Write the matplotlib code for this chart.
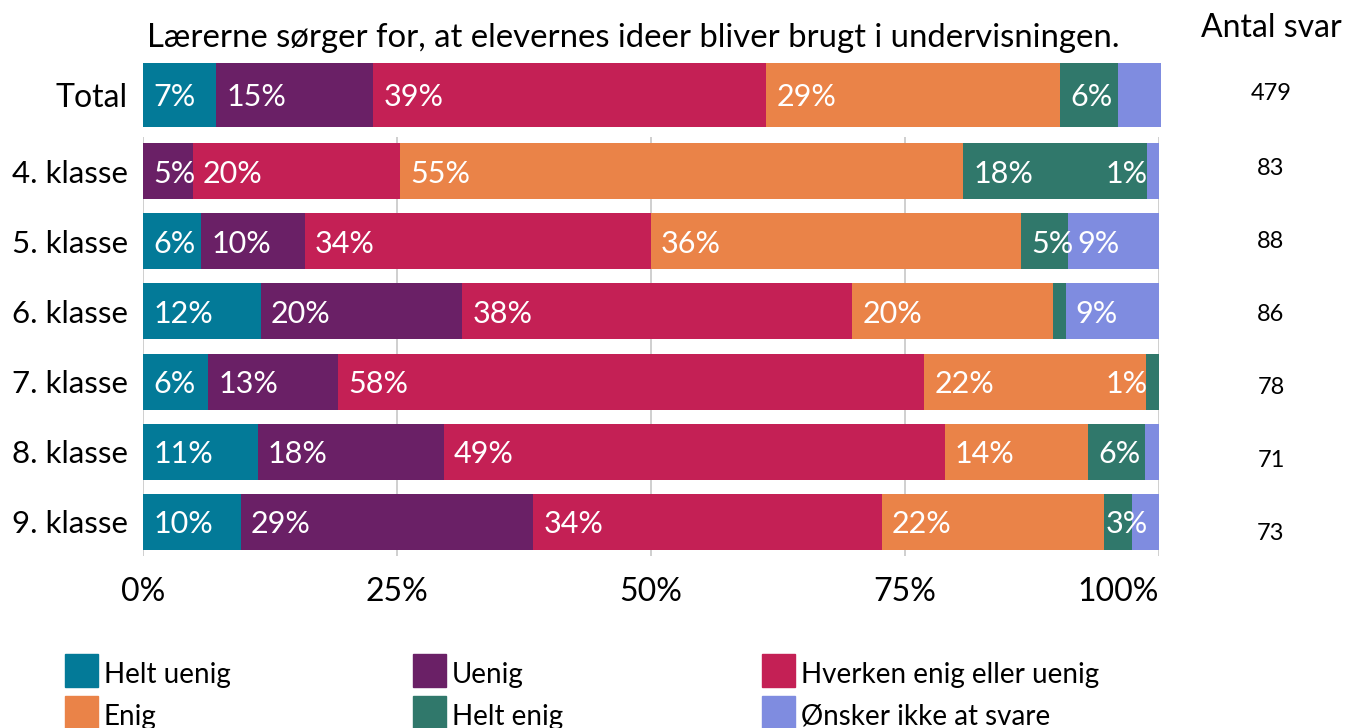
import matplotlib.pyplot as plt
from matplotlib.patches import Rectangle
from matplotlib.transforms import blended_transform_factory

plt.rcParams['font.family'] = ['Lato', 'DejaVu Sans']

title = 'Lærerne sørger for, at elevernes ideer bliver brugt i undervisningen.'
categories = ['Helt uenig', 'Uenig', 'Hverken enig eller uenig',
              'Enig', 'Helt enig', 'Ønsker ikke at svare']
colors = ['#037a98', '#6a2066', '#c42055', '#ea8348', '#30786b', '#7f8ce0']

total_pct = [7.2, 15.4, 38.6, 28.9, 5.7, 4.2]
total_n = 479

grades = ['4. klasse', '5. klasse', '6. klasse', '7. klasse', '8. klasse', '9. klasse']
grade_pct = [
    [0.0, 4.9, 20.4, 55.4, 18.1, 1.2],
    [5.7, 10.2, 34.1, 36.4, 4.6, 9.0],
    [11.6, 19.8, 38.4, 19.8, 1.2, 9.2],
    [6.4, 12.8, 57.7, 21.8, 1.3, 0.0],
    [11.3, 18.3, 49.3, 14.1, 5.6, 1.4],
    [9.6, 28.8, 34.3, 21.9, 2.7, 2.7],
]
grade_n = [83, 88, 86, 78, 71, 73]

W, H = 1354, 728
fig = plt.figure(figsize=(W / 100, H / 100), dpi=100)


def px_box(x0, y0, x1, y1):
    return [x0 / W, 1 - y1 / H, (x1 - x0) / W, (y1 - y0) / H]


def draw_row(axis, y, values, height):
    left = 0
    labels = []
    for v, c in zip(values, colors):
        axis.barh(y, v, left=left, height=height, color=c, zorder=2)
        if v > 0:
            t = axis.text(left + 1.0, y, f'{v:.0f}%', color='white', fontsize=22,
                          ha='left', va='center_baseline', zorder=3)
            labels.append((v, t))
        left += v
    return labels


# total on its own strip
ax_tot = fig.add_axes(px_box(143, 63, 1161, 127))
rows = [(ax_tot, draw_row(ax_tot, 0, total_pct, 1.0))]
ax_tot.set_xlim(0, 100)
ax_tot.set_ylim(-0.5, 0.5)
ax_tot.set_xticks([])
ax_tot.set_yticks([0], ['Total'], fontsize=23)
ax_tot.tick_params(length=0, pad=11)
for lab in ax_tot.get_yticklabels():
    lab.set_y(0.05)
for s in ax_tot.spines.values():
    s.set_visible(False)

# one bar per grade
ax = fig.add_axes(px_box(143, 137, 1159, 556))
for i, vals in enumerate(grade_pct):
    rows.append((ax, draw_row(ax, i, vals, 0.8)))
ax.set_xlim(0, 100)
ax.set_ylim(5.49, -0.49)
ax.set_yticks(range(len(grades)), grades, fontsize=22.5)
ax.set_xticks([0, 25, 50, 75, 100], ['0%', '25%', '50%', '75%', '100%'], fontsize=23)
ax.get_xticklabels()[-1].set_horizontalalignment('right')
ax.tick_params(axis='y', length=0, pad=11)
ax.tick_params(axis='x', length=0, pad=15)
ax.grid(axis='x', color='#cccccc', lw=1.3, zorder=0)
ax.set_axisbelow(True)
for s in ax.spines.values():
    s.set_visible(False)

# number of answers
fig.text(1271 / W, 1 - 37 / H, 'Antal svar', fontsize=23, ha='center', va='baseline')
tr = blended_transform_factory(fig.transFigure, ax_tot.transData)
fig.text(1271 / W, 0.05, str(total_n), transform=tr, fontsize=17,
         ha='center', va='center_baseline')
ax_n = fig.add_axes(px_box(1200, 137, 1342, 556))
ax_n.set_xlim(0, 1)
ax_n.set_ylim(5.343, -0.412)
ax_n.axis('off')
for i, n in enumerate(grade_n):
    ax_n.text(0.5, i, str(n), fontsize=17, ha='center', va='center_baseline')

fig.text(633 / W, 1 - 47 / H, title, fontsize=23.7, ha='center', va='baseline')

# legend, three columns
for k, (name, c) in enumerate(zip(categories, colors)):
    x0 = [65, 413, 762][k % 3]
    y0 = [654, 696][k // 3]
    fig.add_artist(Rectangle((x0 / W, 1 - (y0 + 33) / H), 33 / W, 33 / H,
                             transform=fig.transFigure, color=c))
    fig.text((x0 + 39) / W, 1 - (y0 + 18) / H, name, fontsize=20,
             ha='left', va='center_baseline')

# push labels inside the bar end and drop the ones that collide
fig.canvas.draw()
renderer = fig.canvas.get_renderer()
for axis, labels in rows:
    x_right = axis.transData.transform((100, 0))[0] - 11
    unit = axis.transData.transform((1, 0))[0] - axis.transData.transform((0, 0))[0]
    for v, t in labels:
        bb = t.get_window_extent(renderer)
        if bb.x1 > x_right:
            t.set_x(t.get_position()[0] - (bb.x1 - x_right) / unit)
    kept = []
    for v, t in sorted(labels, key=lambda p: -p[0]):
        bb = t.get_window_extent(renderer)
        if any(bb.x0 < k.x1 and k.x0 < bb.x1 for k in kept):
            t.set_visible(False)
        else:
            kept.append(bb)

fig.savefig('out.png', dpi=100)
